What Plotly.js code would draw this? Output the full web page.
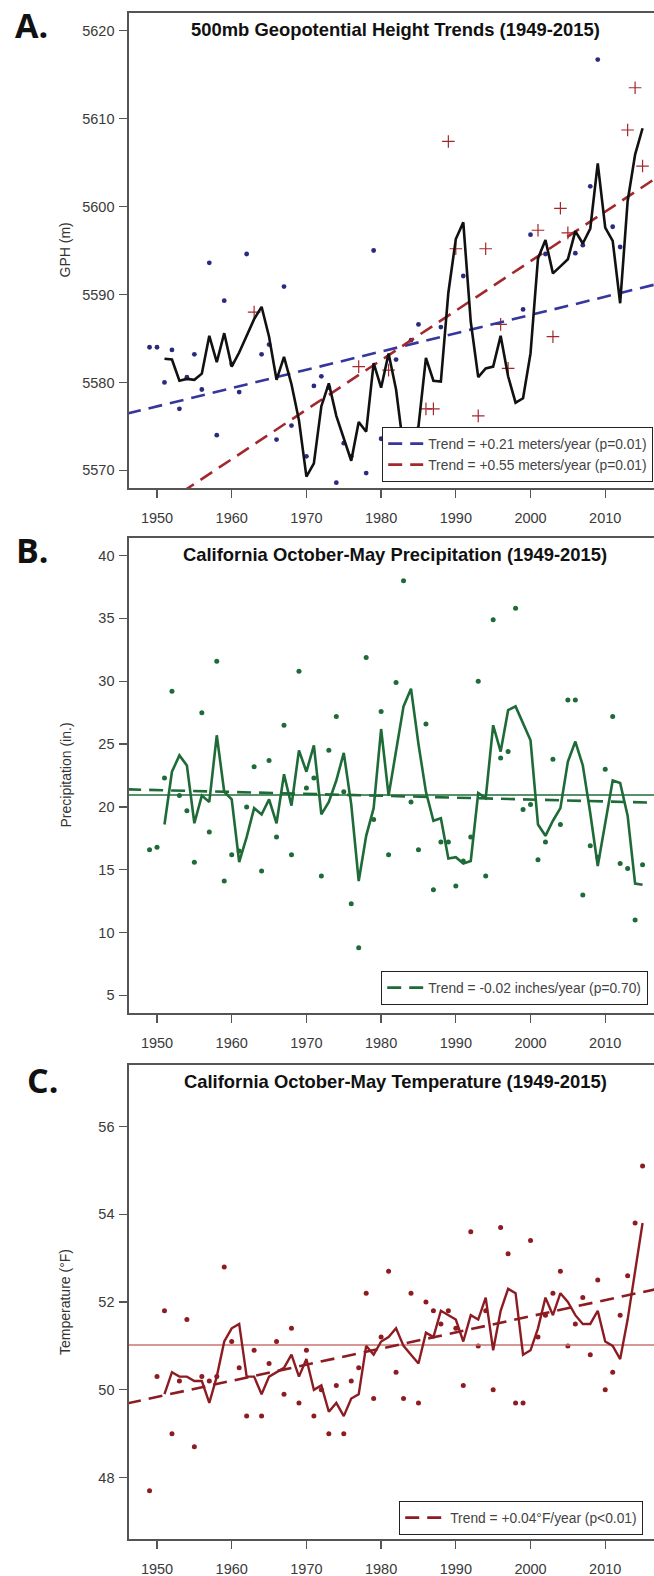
<!DOCTYPE html>
<html>
<head>
<meta charset="utf-8">
<script src="https://cdn.plot.ly/plotly-3.0.1.min.js"></script>
<style>
html,body{margin:0;padding:0;background:#fff;overflow:hidden}
#chart{width:654px;height:1576px}
</style>
</head>
<body>
<div id="chart"></div>
<script>
// ---------- DATA ----------
const years = [1949,1950,1951,1952,1953,1954,1955,1956,1957,1958,
               1959,1960,1961,1962,1963,1964,1965,1966,1967,1968,
               1969,1970,1971,1972,1973,1974,1975,1976,1977,1978,
               1979,1980,1981,1982,1983,1984,1985,1986,1987,1988,
               1989,1990,1991,1992,1993,1994,1995,1996,1997,1998,
               1999,2000,2001,2002,2003,2004,2005,2006,2007,2008,
               2009,2010,2011,2012,2013,2014,2015];
const meanYears = years.slice(2); // 1951-2015 (3-yr trailing means)

// Panel A: 500mb geopotential height (m)
const gph = [5584,5584,5580,5583.7,5577,5580.6,5583.2,5579.2,5593.6,5574,
             5589.3,5582.1,5578.9,5594.6,5588,5583.2,5584.3,5573.5,5590.9,5575.1,
             5561.2,5571.6,5579.6,5580.7,5579.4,5568.6,5573.1,5571.6,5581.8,5569.7,
             5595,5573.6,5581.4,5582.6,5553.6,5584.8,5586.6,5577,5577,5586.3,
             5607.4,5595.2,5592.1,5573.4,5576.2,5595.2,5574,5586.6,5581.6,5564.8,
             5588.3,5596.8,5597.3,5594.6,5585.2,5599.8,5597,5594.7,5595.6,5602.3,
             5616.7,5573.9,5597.7,5595.4,5608.7,5613.5,5604.6];
const gphGroup = ['b','b','b','b','b','b','b','b','b','b',
                  'b','b','b','b','r','b','b','b','b','b',
                  'b','b','b','b','b','b','b','b','r','b',
                  'b','b','r','b','b','b','b','r','r','b',
                  'r','r','b','b','r','r','b','r','r','b',
                  'b','b','r','b','r','r','r','b','b','b',
                  'b','b','b','b','r','r','r'];
const gphMean3 = [5582.7,5582.6,5580.2,5580.4,5580.3,5581.0,5585.3,5582.3,5585.6,5581.8,
                  5583.4,5585.2,5587.2,5588.6,5585.2,5580.3,5582.9,5579.8,5575.7,5569.3,
                  5570.8,5577.3,5579.9,5576.2,5573.7,5571.1,5575.5,5574.4,5582.2,5579.4,
                  5583.3,5579.2,5572.5,5573.7,5575.0,5582.8,5580.2,5580.1,5590.2,5596.3,
                  5598.2,5586.9,5580.6,5581.6,5581.8,5585.3,5580.7,5577.7,5578.2,5583.3,
                  5594.1,5596.2,5592.4,5593.2,5594.0,5597.2,5595.8,5597.5,5604.9,5597.6,
                  5596.1,5589.0,5600.6,5605.9,5608.9];

// Panel B: precipitation (in.)
const precip = [16.6,16.8,22.3,29.2,20.9,19.7,15.6,27.5,18.0,31.6,
                14.1,16.2,16.5,20.0,23.2,14.9,23.7,17.6,26.5,16.2,
                30.8,21.5,22.3,14.5,24.5,27.2,21.2,12.3,8.8,31.9,
                19.0,27.6,16.2,29.9,38.0,20.4,16.6,26.6,13.4,17.2,
                17.2,13.7,15.7,17.6,30.0,14.5,34.9,23.9,24.4,35.8,
                19.8,20.2,15.8,17.2,23.8,18.6,28.5,28.5,13.0,16.9,
                16.0,23.0,27.2,15.5,15.1,11.0,15.4];
const precipMean3 = [18.6,22.8,24.1,23.3,18.7,20.9,20.4,25.7,21.2,20.6,
                     15.6,17.6,19.9,19.4,20.6,18.7,22.6,20.1,24.5,22.8,
                     24.9,19.4,20.4,22.1,24.3,20.2,14.1,17.7,19.9,26.2,
                     20.9,24.6,28.0,29.4,25.0,21.2,18.9,19.1,15.9,16.0,
                     15.5,15.7,21.1,20.7,26.5,24.4,27.7,28.0,26.7,25.3,
                     18.6,17.7,18.9,19.9,23.6,25.2,23.3,19.5,15.3,18.6,
                     22.1,21.9,19.3,13.9,13.8];

// Panel C: temperature (°F)
const temp = [47.7,50.3,51.8,49.0,50.2,51.6,48.7,50.3,50.2,50.3,
              52.8,51.1,50.5,49.4,50.9,49.4,50.6,51.1,49.9,51.4,
              49.7,50.9,49.4,50.0,49.0,50.1,49.0,50.2,50.5,52.2,
              49.8,51.2,52.7,50.4,49.8,52.2,49.7,52.0,51.8,51.5,
              51.8,51.4,50.1,53.6,51.0,51.8,50.0,53.7,53.1,49.7,
              49.7,53.4,51.2,51.7,52.2,52.7,51.0,51.5,52.1,50.8,
              52.5,50.0,50.4,51.7,52.6,53.8,55.1];
const tempMean3 = [49.9,50.4,50.3,50.3,50.2,50.2,49.7,50.3,51.1,51.4,
                   51.5,50.3,50.3,49.9,50.3,50.4,50.5,50.8,50.3,50.7,
                   50.0,50.1,49.5,49.7,49.4,49.8,49.9,51.0,50.8,51.1,
                   51.2,51.4,51.0,50.8,50.6,51.3,51.2,51.8,51.7,51.6,
                   51.1,51.7,51.6,52.1,50.9,51.8,52.3,52.2,50.8,50.9,
                   51.4,52.1,51.7,52.2,52.0,51.7,51.5,51.5,51.8,51.1,
                   51.0,50.7,51.6,52.7,53.8];

// Trend lines (end points) and long-term means
const trendYears = [1946, 2017];
const gphTrendBlue = [5576.45, 5591.2];
const gphTrendRed = [5563.4, 5603.35];
const precipTrend = [21.4, 20.33];
const tempTrend = [49.69, 52.3];
const precipMean = 20.95;
const tempMean = 51.02;

const trendLabels = ['Trend = +0.21 meters/year (p=0.01)',
                     'Trend = +0.55 meters/year (p=0.01)',
                     'Trend = -0.02 inches/year (p=0.70)',
                     'Trend = +0.04°F/year (p<0.01)'];
const titles = ['500mb Geopotential Height Trends (1949-2015)',
                'California October-May Precipitation (1949-2015)',
                'California October-May Temperature (1949-2015)'];
const yTitles = ['GPH (m)', 'Precipitation (in.)', 'Temperature (°F)'];
const panelLetters = ['A.', 'B.', 'C.'];
const xTicks = [1950,1960,1970,1980,1990,2000,2010];
const yTicksA = [5570,5580,5590,5600,5610,5620];
const yTicksB = [5,10,15,20,25,30,35,40];
const yTicksC = [48,50,52,54,56];

// ---------- STYLE / GEOMETRY ----------
const W = 654, H = 1576;
const BLUE = '#2a2a7e', BLUE_T = '#36369c', RED = '#a3282d';
const GREEN = '#1f6b38', TRED = '#8d1c22', TRED_MEAN = '#c97474';
const DASH = '14px,8px';
const px = v => v / W;
const py = v => 1 - v / H;
const panels = [ {top: 13, bottom: 488}, {top: 538, bottom: 1013}, {top: 1065, bottom: 1539} ];
const plotLeft = 129, plotCenterX = 395.5;

const bIdx = gphGroup.map((g,i)=>g==='b'?i:-1).filter(i=>i>=0);
const rIdx = gphGroup.map((g,i)=>g==='r'?i:-1).filter(i=>i>=0);

const traces = [
  // Panel A
  {x: bIdx.map(i=>years[i]), y: bIdx.map(i=>gph[i]), mode:'markers', xaxis:'x', yaxis:'y',
   marker:{size:4.8, color:BLUE}, showlegend:false},
  {x: rIdx.map(i=>years[i]), y: rIdx.map(i=>gph[i]), mode:'markers', xaxis:'x', yaxis:'y',
   marker:{size:9, symbol:'cross-thin-open', color:RED, line:{color:RED, width:1.2}}, showlegend:false},
  {x: trendYears, y: gphTrendBlue, mode:'lines', xaxis:'x', yaxis:'y', name: trendLabels[0],
   line:{color:BLUE_T, width:2.6, dash:DASH}, legend:'legend'},
  {x: trendYears, y: gphTrendRed, mode:'lines', xaxis:'x', yaxis:'y', name: trendLabels[1],
   line:{color:RED, width:2.6, dash:DASH}, legend:'legend'},
  {x: meanYears, y: gphMean3, mode:'lines', xaxis:'x', yaxis:'y',
   line:{color:'#111', width:2.6}, showlegend:false},
  // Panel B
  {x: years, y: precip, mode:'markers', xaxis:'x2', yaxis:'y2',
   marker:{size:5, color:GREEN}, showlegend:false},
  {x: trendYears, y: [precipMean, precipMean], mode:'lines', xaxis:'x2', yaxis:'y2',
   line:{color:GREEN, width:1.3}, showlegend:false},
  {x: trendYears, y: precipTrend, mode:'lines', xaxis:'x2', yaxis:'y2', name: trendLabels[2],
   line:{color:GREEN, width:2.6, dash:DASH}, legend:'legend2'},
  {x: meanYears, y: precipMean3, mode:'lines', xaxis:'x2', yaxis:'y2',
   line:{color:GREEN, width:2.6}, showlegend:false},
  // Panel C
  {x: years, y: temp, mode:'markers', xaxis:'x3', yaxis:'y3',
   marker:{size:5, color:TRED}, showlegend:false},
  {x: trendYears, y: [tempMean, tempMean], mode:'lines', xaxis:'x3', yaxis:'y3',
   line:{color:TRED_MEAN, width:1.6}, showlegend:false},
  {x: trendYears, y: tempTrend, mode:'lines', xaxis:'x3', yaxis:'y3', name: trendLabels[3],
   line:{color:TRED, width:2.6, dash:DASH}, legend:'legend3'},
  {x: meanYears, y: tempMean3, mode:'lines', xaxis:'x3', yaxis:'y3',
   line:{color:TRED, width:2.4}, showlegend:false}
];

const tickFont = {family:'Liberation Sans, Arial, sans-serif', size:14.5, color:'#3a3a3a'};
function xAx(anchor){
  return {domain:[px(plotLeft),1], range:[1946.25,2016.53], anchor:anchor,
    tickvals:xTicks, ticks:'outside', ticklen:8, tickwidth:1.3, tickcolor:'#555',
    showline:true, linecolor:'#555', linewidth:1.6, mirror:true, showgrid:false, zeroline:false,
    tickfont:tickFont, ticklabelstandoff:8, fixedrange:true};
}
function yAx(p, range, ticks, anchor){
  return {domain:[py(p.bottom), py(p.top)], range:range, anchor:anchor,
    tickvals:ticks, ticks:'outside', ticklen:8, tickwidth:1.3, tickcolor:'#555',
    showline:true, linecolor:'#555', linewidth:1.6, mirror:false, showgrid:false, zeroline:false,
    tickfont:tickFont, ticklabelstandoff:2, fixedrange:true};
}
function legendAt(x, top, iw){
  return {x:px(x), y:py(top), xanchor:'left', yanchor:'top', bgcolor:'#fff',
    bordercolor:'#222', borderwidth:1.2, font:{family:'Liberation Sans, Arial, sans-serif', size:13.8, color:'#444'},
    itemwidth:iw, tracegroupgap:0};
}

const annotations = [];
const letterPos = [[31,25],[32,550],[42,1080]];
panels.forEach((p, i) => {
  annotations.push({text: titles[i], xref:'paper', yref:'paper', x:px(plotCenterX), y:py(p.top+16),
    xanchor:'center', yanchor:'middle', showarrow:false,
    font:{family:'Liberation Sans, Arial, sans-serif', size:18.4, color:'#111', weight:'bold'}});
  annotations.push({text: yTitles[i], xref:'paper', yref:'paper', x:px(65), y:py((p.top+p.bottom)/2),
    xanchor:'center', yanchor:'middle', textangle:-90, showarrow:false,
    font:{family:'Liberation Sans, Arial, sans-serif', size:14, color:'#333'}});
  annotations.push({text: panelLetters[i], xref:'paper', yref:'paper', x:px(letterPos[i][0]), y:py(letterPos[i][1]),
    xanchor:'center', yanchor:'middle', showarrow:false,
    font:{family:'Open Sans, Liberation Sans, sans-serif', size:34, color:'#111', weight:'bold'}});
});

const layout = {
  width: W, height: H, margin:{l:0, r:0, t:0, b:0},
  paper_bgcolor:'#fff', plot_bgcolor:'#fff', showlegend:true,
  font:{family:'Liberation Sans, Arial, sans-serif'},
  xaxis: xAx('y'), xaxis2: xAx('y2'), xaxis3: xAx('y3'),
  yaxis: yAx(panels[0], [5568, 5622], yTicksA, 'x'),
  yaxis2: yAx(panels[1], [3.6, 41.4], yTicksB, 'x2'),
  yaxis3: yAx(panels[2], [46.6, 57.4], yTicksC, 'x3'),
  legend: legendAt(382, 427, 35),
  legend2: legendAt(381, 971, 36),
  legend3: legendAt(399, 1501, 40),
  annotations: annotations
};

Plotly.newPlot('chart', traces, layout, {displayModeBar:false, staticPlot:true});
</script>
</body>
</html>
